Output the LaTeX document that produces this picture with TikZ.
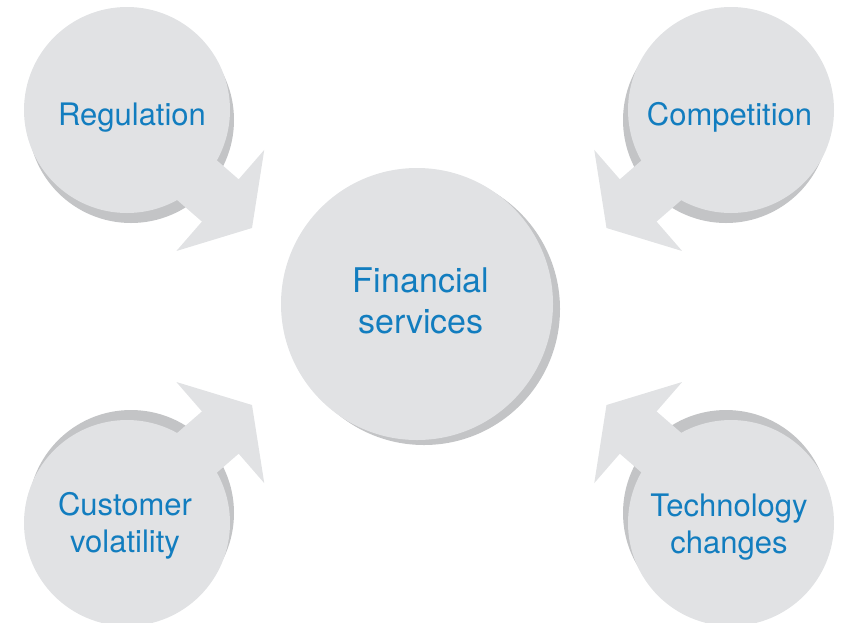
\documentclass[tikz,border=0pt]{standalone}
\usepackage{fontspec}
\setmainfont{TeX Gyre Heros}
\usetikzlibrary{backgrounds}
\definecolor{discgray}{HTML}{E1E2E4}
\definecolor{shadowgray}{HTML}{C3C4C6}
\definecolor{labelblue}{HTML}{127DBF}
\begin{document}
\begin{tikzpicture}[x=1pt,y=-1pt,
  discnode/.style={circle, fill=discgray, inner sep=0pt, minimum size=#1},
  discnode/.default=206pt,
  bigtext/.style={text=labelblue, align=center, anchor=base, inner sep=0pt,
    font=\fontsize{34}{41}\selectfont},
  smalltext/.style={text=labelblue, align=center, anchor=base, inner sep=0pt,
    font=\fontsize{31}{37}\selectfont}]
\useasboundingbox (0,0) rectangle (843,622);
\clip (0,0) rectangle (843,622);
% discs
\node[discnode] (reg) at (127,110) {};
\node[discnode] (comp) at (731,110) {};
\node[discnode] (cust) at (127,523) {};
\node[discnode] (tech) at (731,523) {};
\node[discnode=272pt] (fin) at (417,304) {};
% arrow tips
\coordinate (regtip) at (252,228);
\coordinate (comptip) at (606.5,228);
\coordinate (custtip) at (252,405);
\coordinate (techtip) at (606.5,405);
\begin{pgfonlayer}{background}
  \fill[shadowgray] ([shift={(4,10)}]reg.center) circle (103);
  \fill[shadowgray] ([shift={(-5,10)}]comp.center) circle (103);
  \fill[shadowgray] ([shift={(4,-10)}]cust.center) circle (103);
  \fill[shadowgray] ([shift={(-5,-10)}]tech.center) circle (103);
  \fill[shadowgray] ([shift={(7,5)}]fin.center) circle (136);
  \foreach \tip/\ang in {regtip/-41, comptip/-139, custtip/41, techtip/139}{
    \fill[discgray, shift={(\tip)}, rotate=\ang]
      (0,0) -- (-42,67) -- (-42,28) -- (-175,28) -- (-175,-28)
      -- (-42,-28) -- (-42,-67) -- cycle;
  }
\end{pgfonlayer}
% labels (base anchor = baseline of the last line)
\node[bigtext] (fintext) at (421,333) {Financial\\services};
\node[smalltext] (regtext) at (132,125) {Regulation};
\node[smalltext] (comptext) at (729.5,125) {Competition};
\node[smalltext] (custtext) at (125,552) {Customer\\volatility};
\node[smalltext] (techtext) at (729,553) {Technology\\changes};
\end{tikzpicture}
\end{document}
